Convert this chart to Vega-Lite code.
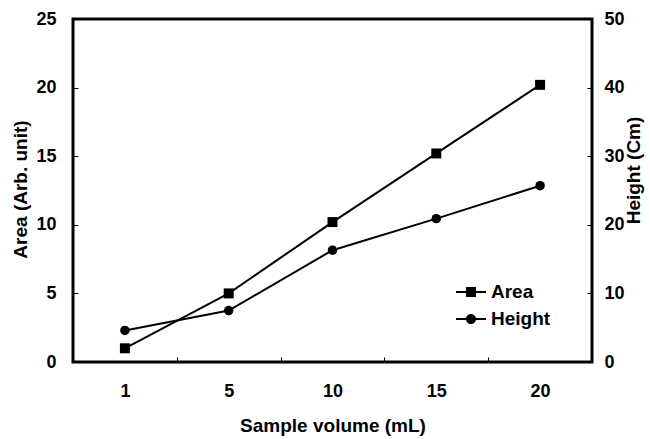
{
  "$schema": "https://vega.github.io/schema/vega-lite/v6.json",
  "autosize": "none",
  "padding": {"left": 73, "top": 19, "right": 58, "bottom": 77},
  "width": 519,
  "height": 343,
  "background": "white",
  "data": {
    "values": [
      {"volume": 1, "series": "Area", "value": 1.0},
      {"volume": 5, "series": "Area", "value": 5.0},
      {"volume": 10, "series": "Area", "value": 10.2},
      {"volume": 15, "series": "Area", "value": 15.2},
      {"volume": 20, "series": "Area", "value": 20.2},
      {"volume": 1, "series": "Height", "value": 4.6},
      {"volume": 5, "series": "Height", "value": 7.5},
      {"volume": 10, "series": "Height", "value": 16.3},
      {"volume": 15, "series": "Height", "value": 20.9},
      {"volume": 20, "series": "Height", "value": 25.7}
    ]
  },
  "encoding": {
    "x": {
      "field": "volume",
      "type": "ordinal",
      "scale": {"type": "band", "paddingInner": 0, "paddingOuter": 0},
      "axis": {
        "title": "Sample volume (mL)",
        "labelAngle": 0,
        "domain": false,
        "tickBand": "extent",
        "tickSize": -5,
        "labelPadding": 25,
        "titleBaseline": "alphabetic",
        "titleFontSize": 19,
        "titleY": 69,
        "titleAlign": "center"
      }
    }
  },
  "layer": [
    {
      "transform": [{"filter": "datum.series === 'Area'"}],
      "encoding": {
        "y": {
          "field": "value",
          "type": "quantitative",
          "scale": {"domain": [0, 25], "nice": false},
          "axis": {
            "title": "Area (Arb. unit)",
            "orient": "left",
            "values": [0, 5, 10, 15, 20, 25],
            "domain": false,
            "grid": false,
            "tickSize": -5,
            "labelPadding": 22,
            "titleAngle": 270,
            "titleX": -47,
            "titleY": 170,
            "titleAlign": "center",
            "titleBaseline": "alphabetic"
          }
        }
      },
      "layer": [
        {"mark": {"type": "line", "color": "black", "strokeWidth": 2}},
        {"mark": {"type": "point", "shape": "square", "filled": true, "color": "black", "opacity": 1, "size": 100}},
        {
          "transform": [{"filter": "datum.volume < 0"}],
          "mark": {"type": "point", "filled": true, "color": "black", "opacity": 1},
          "encoding": {
            "shape": {
              "field": "series",
              "type": "nominal",
              "scale": {
                "domain": ["Area", "Height"],
                "range": [
                  "M-1,-0.07L1,-0.07L1,0.07L-1,0.07ZM-0.33,-0.33L0.33,-0.33L0.33,0.33L-0.33,0.33Z",
                  "M-1,-0.07L1,-0.07L1,0.07L-1,0.07ZM0.34,0A0.34,0.34,0,1,1,-0.34,0A0.34,0.34,0,1,1,0.34,0Z"
                ]
              },
              "legend": {
                "title": null,
                "orient": "none",
                "legendX": 382,
                "legendY": 257,
                "padding": 0,
                "rowPadding": 1,
                "symbolSize": 900,
                "symbolFillColor": "black",
                "symbolOpacity": 1,
                "labelFont": "Liberation Sans",
                "labelFontSize": 19,
                "labelFontWeight": "bold",
                "labelColor": "black",
                "labelOffset": 4
              }
            }
          }
        }
      ]
    },
    {
      "transform": [{"filter": "datum.series === 'Height'"}],
      "encoding": {
        "y": {
          "field": "value",
          "type": "quantitative",
          "scale": {"domain": [0, 50], "nice": false},
          "axis": {
            "title": "Height (Cm)",
            "orient": "right",
            "values": [0, 10, 20, 30, 40, 50],
            "domain": false,
            "grid": false,
            "tickSize": -5,
            "labelPadding": 17,
            "titleAngle": 270,
            "titleX": 47,
            "titleY": 151,
            "titleAlign": "center",
            "titleBaseline": "alphabetic"
          }
        }
      },
      "layer": [
        {"mark": {"type": "line", "color": "black", "strokeWidth": 2}},
        {"mark": {"type": "point", "shape": "circle", "filled": true, "color": "black", "opacity": 1, "size": 90}}
      ]
    }
  ],
  "resolve": {"scale": {"y": "independent"}},
  "config": {
    "view": {"stroke": "black", "strokeWidth": 3},
    "axis": {
      "labelFont": "Liberation Sans",
      "labelFontSize": 18,
      "labelFontWeight": "bold",
      "labelColor": "black",
      "titleFont": "Liberation Sans",
      "titleFontSize": 19,
      "titleFontWeight": "bold",
      "titleColor": "black",
      "tickColor": "black",
      "tickWidth": 1,
      "grid": false
    }
  }
}
